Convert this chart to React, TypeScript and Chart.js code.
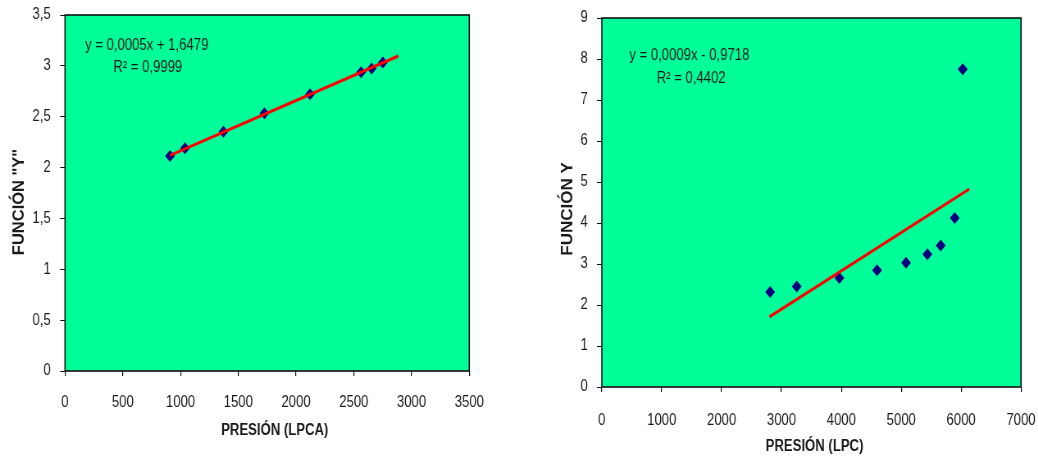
import React, { useEffect, useRef } from "react";
import { Chart, registerables } from "chart.js";

Chart.register(...registerables);

// ---------- Left chart data ----------
const leftPressure = [909, 1039, 1371, 1726, 2121, 2563, 2655, 2751];
const leftFunctionY = [2.114, 2.19, 2.353, 2.533, 2.72, 2.937, 2.975, 3.032];
const leftTrendX = [909, 2886];
const leftTrendY = [2.12, 3.097];
const leftXTicks = ["0", "500", "1000", "1500", "2000", "2500", "3000", "3500"];
const leftYTicks = ["0", "0,5", "1", "1,5", "2", "2,5", "3", "3,5"];
const leftEquation = "y = 0,0005x + 1,6479";
const leftR2 = "R² = 0,9999";
const leftXTitle = "PRESIÓN (LPCA)";
const leftYTitle = 'FUNCIÓN "Y"';

// ---------- Right chart data ----------
const rightPressure = [2810, 3255, 3967, 4596, 5080, 5436, 5659, 5893, 6027];
const rightFunctionY = [2.32, 2.45, 2.66, 2.85, 3.03, 3.24, 3.45, 4.12, 7.75];
const rightTrendX = [2798, 6137];
const rightTrendY = [1.71, 4.83];
const rightXTicks = ["0", "1000", "2000", "3000", "4000", "5000", "6000", "7000"];
const rightYTicks = ["0", "1", "2", "3", "4", "5", "6", "7", "8", "9"];
const rightEquation = "y = 0,0009x - 0,9718";
const rightR2 = "R² = 0,4402";
const rightXTitle = "PRESIÓN (LPC)";
const rightYTitle = "FUNCIÓN Y";

// The original picture is horizontally squeezed; draw wide and squeeze with CSS.
const K = 0.82;
const PANEL_W = 519;
const CANVAS_W = Math.round(PANEL_W / K);
const CANVAS_H = 459;

const FONT = '"Liberation Sans", Arial, sans-serif';
const PLOT_BG = "#00FF99";

type Cfg = {
  px: number[];
  py: number[];
  tx: number[];
  ty: number[];
  xTicks: string[];
  yTicks: string[];
  xMax: number;
  xStep: number;
  yMax: number;
  yStep: number;
  eq: string;
  r2: string;
  xTitle: string;
  yTitle: string;
  yAxisWidth: number;
  xAxisHeight: number;
  padTop: number;
  padRight: number;
  xTickPad: number;
  yTickPad: number;
  eqPos: [number, number];
  r2Pos: [number, number];
  xTitlePos: [number, number];
  yTitlePos: [number, number];
  yTitleSize: number;
};

function ScatterChart({ cfg }: { cfg: Cfg }) {
  const ref = useRef<HTMLCanvasElement | null>(null);
  useEffect(() => {
    if (!ref.current) return;
    const decor = {
      id: "decor",
      beforeDatasetsDraw(chart: any) {
        const { ctx, chartArea: a } = chart;
        ctx.save();
        ctx.fillStyle = PLOT_BG;
        ctx.fillRect(a.left, a.top, a.right - a.left, a.bottom - a.top);
        ctx.restore();
      },
      afterDraw(chart: any) {
        const { ctx, chartArea: a } = chart;
        ctx.save();
        ctx.strokeStyle = "#111";
        ctx.lineWidth = 1.6;
        ctx.strokeRect(a.left, a.top, a.right - a.left, a.bottom - a.top);
        ctx.fillStyle = "#1a1a1a";
        ctx.font = `16px ${FONT}`;
        ctx.textAlign = "left";
        ctx.textBaseline = "middle";
        ctx.fillText(cfg.eq, cfg.eqPos[0], cfg.eqPos[1]);
        ctx.fillText(cfg.r2, cfg.r2Pos[0], cfg.r2Pos[1]);
        ctx.font = `bold 16px ${FONT}`;
        ctx.textAlign = "center";
        ctx.fillText(cfg.xTitle, cfg.xTitlePos[0], cfg.xTitlePos[1]);
        ctx.translate(cfg.yTitlePos[0], cfg.yTitlePos[1]);
        ctx.scale(1 / K, 1);
        ctx.rotate(-Math.PI / 2);
        ctx.font = `bold ${cfg.yTitleSize}px ${FONT}`;
        ctx.fillText(cfg.yTitle, 0, 0);
        ctx.restore();
      },
    };
    const chart = new Chart(ref.current, {
      type: "scatter",
      data: {
        datasets: [
          {
            label: "Tendencia",
            type: "line",
            data: cfg.tx.map((x, i) => ({ x, y: cfg.ty[i] })),
            borderColor: "#FF0000",
            borderWidth: 3,
            pointRadius: 0,
            fill: false,
            order: 0,
          } as any,
          {
            label: "Datos",
            data: cfg.px.map((x, i) => ({ x, y: cfg.py[i] })),
            pointStyle: "rectRot",
            pointRadius: 6,
            backgroundColor: "#000080",
            borderColor: "#000080",
            borderWidth: 0,
            order: 1,
          },
        ],
      },
      options: {
        animation: false,
        responsive: false,
        maintainAspectRatio: false,
        devicePixelRatio: 1,
        layout: { padding: { top: cfg.padTop, right: cfg.padRight, left: 0, bottom: 0 } },
        plugins: { legend: { display: false }, tooltip: { enabled: false }, title: { display: false } },
        scales: {
          x: {
            type: "linear",
            min: 0,
            max: cfg.xMax,
            border: { display: false },
            grid: { drawOnChartArea: false, drawTicks: true, tickLength: 5, color: "#111", lineWidth: 1.2 },
            ticks: {
              stepSize: cfg.xStep,
              padding: cfg.xTickPad,
              color: "#1a1a1a",
              font: { family: FONT, size: 16 },
              maxRotation: 0,
              callback: (_v: any, i: number) => cfg.xTicks[i],
            },
            afterFit: (s: any) => {
              s.height = cfg.xAxisHeight;
              s.paddingLeft = 0;
              s.paddingRight = 0;
            },
          },
          y: {
            type: "linear",
            min: 0,
            max: cfg.yMax,
            border: { display: false },
            grid: { drawOnChartArea: false, drawTicks: true, tickLength: 6, color: "#111", lineWidth: 1 },
            ticks: {
              stepSize: cfg.yStep,
              padding: cfg.yTickPad,
              color: "#1a1a1a",
              font: { family: FONT, size: 16 },
              callback: (_v: any, i: number) => cfg.yTicks[i],
            },
            afterFit: (s: any) => {
              s.width = cfg.yAxisWidth;
              s.paddingTop = 0;
              s.paddingBottom = 0;
            },
          },
        },
      } as any,
      plugins: [decor],
    });
    return () => chart.destroy();
  }, [cfg]);
  return (
    <div style={{ width: PANEL_W, height: CANVAS_H, overflow: "hidden", position: "relative" }}>
      <canvas
        ref={ref}
        width={CANVAS_W}
        height={CANVAS_H}
        style={{
          display: "block",
          width: CANVAS_W,
          height: CANVAS_H,
          transform: `scaleX(${K})`,
          transformOrigin: "0 0",
        }}
      />
    </div>
  );
}

const leftCfg: Cfg = {
  px: leftPressure,
  py: leftFunctionY,
  tx: leftTrendX,
  ty: leftTrendY,
  xTicks: leftXTicks,
  yTicks: leftYTicks,
  xMax: 3500,
  xStep: 500,
  yMax: 3.5,
  yStep: 0.5,
  eq: leftEquation,
  r2: leftR2,
  xTitle: leftXTitle,
  yTitle: leftYTitle,
  yAxisWidth: 79.3,
  xAxisHeight: 88,
  padTop: 15,
  padRight: CANVAS_W - 572.3,
  xTickPad: 17,
  yTickPad: 11.5,
  eqPos: [103.7, 46],
  r2Pos: [138.2, 68],
  xTitlePos: [335, 431],
  yTitlePos: [23.2, 202],
  yTitleSize: 16.5,
};

const rightCfg: Cfg = {
  px: rightPressure,
  py: rightFunctionY,
  tx: rightTrendX,
  ty: rightTrendY,
  xTicks: rightXTicks,
  yTicks: rightYTicks,
  xMax: 7000,
  xStep: 1000,
  yMax: 9,
  yStep: 1,
  eq: rightEquation,
  r2: rightR2,
  xTitle: rightXTitle,
  yTitle: rightYTitle,
  yAxisWidth: 101,
  xAxisHeight: 72,
  padTop: 18,
  padRight: CANVAS_W - 612.2,
  xTickPad: 19,
  yTickPad: 11,
  eqPos: [134.5, 56],
  r2Pos: [167.9, 79],
  xTitlePos: [360.4, 447],
  yTitlePos: [59.1, 209],
  yTitleSize: 17,
};

export default function App() {
  return (
    <div style={{ position: "absolute", left: 0, top: 0, width: 1038, height: 459, background: "#fff", display: "flex" }}>
      <ScatterChart cfg={leftCfg} />
      <ScatterChart cfg={rightCfg} />
    </div>
  );
}
